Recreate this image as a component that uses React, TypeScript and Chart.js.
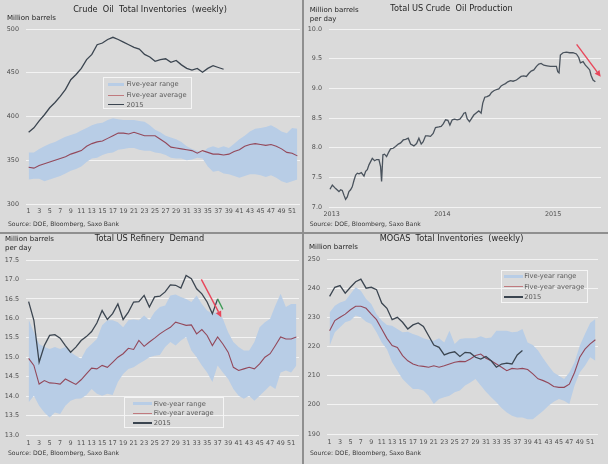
import React, { useEffect, useRef } from "react";
import { Chart, registerables } from "chart.js";
Chart.register(...registerables);

const FONT = "'DejaVu Sans', Verdana, sans-serif";
const BG = "#dadada";
const GRID = "#f3f3f3";
const BAND = "#b8cde6";
const AVG = "#93485a";
const LINE2015 = "#3b4550";
const ARROW = "#e8465a";
const GREEN = "#3c9a55";
const TICK = "#505050";
const TEXT = "#262626";

const seriesNames = ["Five-year range", "Five-year average", "2015"];
const sourceText = "Source: DOE, Bloomberg, Saxo Bank";

const weeks = [1,2,3,4,5,6,7,8,9,10,11,12,13,14,15,16,17,18,19,20,21,22,23,24,25,26,27,28,29,30,31,32,33,34,35,36,37,38,39,40,41,42,43,44,45,46,47,48,49,50,51,52];
const weekTicks = [1,3,5,7,9,11,13,15,17,19,21,23,25,27,29,31,33,35,37,39,41,43,45,47,49,51];

// Crude oil total inventories (million barrels)
const crudeRangeLow = [328,329,329,326,328,330,332,335,338,340,343,348,352,353,356,358,359,362,363,364,364,362,361,361,359,358,356,353,352,352,350,351,353,352,343,337,338,335,334,332,330,332,334,334,333,331,333,330,326,324,326,328];
const crudeRangeHigh = [359,359,363,366,369,371,374,377,379,381,384,387,390,392,393,396,398,397,396,396,396,395,394,390,385,382,378,376,374,371,366,363,361,359,364,366,364,366,364,369,374,378,383,386,387,388,390,387,383,381,387,386];
const crudeAvg = [342,341,344,346,348,350,352,354,357,359,361,366,369,371,372,375,378,381,381,380,382,380,378,378,378,374,370,365,364,363,362,361,358,361,359,357,357,356,357,360,362,366,368,369,368,367,368,366,363,359,358,355];
const crude2015 = [382,387,395,402,410,416,423,431,442,448,455,465,471,482,484,488,490.5,488,485,482,479,477,471,468,463,465,466,462,464,459,455,453,455,450.5,455,458,456,454];
const crudeYTicks = [300, 500, 50];

// Total US crude oil production (million barrels per day)
const prodDates = [2012.985,2013.006,2013.036,2013.066,2013.081,2013.096,2013.111,2013.126,2013.141,2013.156,2013.171,2013.186,2013.202,2013.217,2013.232,2013.247,2013.268,2013.292,2013.307,2013.322,2013.337,2013.367,2013.388,2013.406,2013.427,2013.442,2013.451,2013.463,2013.478,2013.496,2013.517,2013.532,2013.556,2013.577,2013.602,2013.623,2013.647,2013.668,2013.692,2013.713,2013.743,2013.767,2013.788,2013.809,2013.827,2013.848,2013.869,2013.893,2013.917,2013.938,2013.968,2013.989,2014.008,2014.029,2014.050,2014.068,2014.089,2014.110,2014.134,2014.158,2014.179,2014.194,2014.209,2014.224,2014.245,2014.263,2014.284,2014.308,2014.329,2014.350,2014.365,2014.383,2014.404,2014.426,2014.444,2014.465,2014.489,2014.510,2014.531,2014.549,2014.570,2014.591,2014.615,2014.639,2014.669,2014.690,2014.711,2014.735,2014.759,2014.780,2014.802,2014.826,2014.850,2014.871,2014.892,2014.916,2014.946,2014.976,2015.006,2015.030,2015.042,2015.054,2015.066,2015.090,2015.120,2015.150,2015.180,2015.211,2015.232,2015.247,2015.271,2015.292,2015.313,2015.331,2015.343,2015.361,2015.382];
const prodValues = [7.30,7.37,7.31,7.26,7.29,7.28,7.20,7.13,7.17,7.26,7.29,7.34,7.45,7.54,7.57,7.56,7.58,7.52,7.60,7.63,7.71,7.82,7.78,7.80,7.80,7.68,7.43,7.88,7.89,7.85,7.93,7.98,7.99,8.02,8.06,8.08,8.13,8.14,8.16,8.06,8.03,8.07,8.16,8.06,8.10,8.20,8.20,8.19,8.24,8.34,8.35,8.36,8.40,8.47,8.46,8.38,8.47,8.48,8.47,8.48,8.53,8.58,8.59,8.49,8.44,8.49,8.55,8.59,8.62,8.58,8.75,8.85,8.86,8.88,8.93,8.96,8.98,8.99,9.04,9.06,9.08,9.11,9.13,9.12,9.14,9.17,9.20,9.21,9.20,9.25,9.29,9.31,9.37,9.41,9.42,9.39,9.38,9.37,9.37,9.37,9.28,9.26,9.56,9.60,9.61,9.60,9.60,9.58,9.52,9.43,9.45,9.39,9.35,9.31,9.22,9.14,9.11];
const prodYearTicks = [2013, 2014, 2015];
const prodArrow = { x0: 2015.213, y0: 9.74, x1: 2015.43, y1: 9.196 };

// Total US refinery demand (million barrels per day)
const refRangeLow = [13.84,14.01,13.75,13.58,13.45,13.58,13.54,13.75,13.88,13.93,13.94,14.03,14.18,14.06,14.01,14.06,14.03,14.36,14.57,14.70,14.74,14.83,14.91,15.00,15.04,15.06,15.26,15.39,15.30,15.43,15.52,15.17,15.00,14.79,14.61,14.36,14.79,14.61,14.44,14.18,14.01,13.93,14.01,13.88,14.01,14.14,14.27,14.18,14.61,14.66,14.61,14.79];
const refRangeHigh = [15.97,15.64,15.34,15.26,15.21,15.26,15.21,15.26,15.13,15.04,14.96,15.21,15.34,15.47,15.82,15.95,15.95,15.90,15.77,15.95,15.97,15.95,16.07,15.95,16.16,16.29,16.33,16.59,16.61,16.55,16.50,16.42,16.59,16.37,16.20,16.12,16.16,15.99,15.64,15.39,15.26,15.17,15.17,15.39,15.77,15.90,15.99,16.33,16.63,16.29,16.37,16.37];
const refAvg = [14.97,14.79,14.31,14.40,14.34,14.33,14.31,14.44,14.37,14.30,14.42,14.57,14.72,14.70,14.79,14.74,14.87,15.00,15.09,15.23,15.20,15.43,15.28,15.39,15.49,15.60,15.69,15.77,15.90,15.86,15.82,15.83,15.60,15.71,15.56,15.30,15.52,15.34,15.13,14.74,14.66,14.70,14.74,14.70,14.83,15.00,15.09,15.30,15.52,15.47,15.47,15.52];
const ref2015 = [16.43,15.95,14.87,15.30,15.56,15.58,15.49,15.30,15.13,15.26,15.43,15.53,15.66,15.88,16.20,15.97,16.12,16.37,15.97,16.16,16.42,16.43,16.59,16.29,16.55,16.57,16.68,16.86,16.85,16.78,17.10,17.02,16.76,16.63,16.42,16.12,16.50,16.23];
const refArrow = { x0: 33.9, y0: 17.0, x1: 37.7, y1: 16.03 };

// MOGAS total inventories (million barrels)
const mogasRangeLow = [220.3,224.9,226.6,228.3,228.9,230.6,230,228.5,227.7,224.9,221.4,219.1,214.6,211.7,208.9,207.1,205.4,205.4,204.9,203.1,200.3,202,202.6,203.1,204.3,204.9,206.6,207.7,208.9,206.6,204.5,202.6,200.9,198.9,197.4,196.3,195.7,195.7,195.1,195.1,196.5,198,199.7,201.1,202,201.4,200.3,206.6,211.1,213.4,216.3,215.1];
const mogasRangeHigh = [231.7,234,235.1,235.7,238,240.3,239.1,236.3,234.6,231.1,228.9,227.4,227.1,226,224.9,225.1,224.3,223.7,222.8,222.3,222,222.8,221.4,225.4,220.9,222.6,222.8,222.8,222.8,223.5,222.8,223.1,225.4,225.4,225.4,224.9,225.1,226,221.4,220.5,218.6,215.9,213.4,211.1,210,208.9,211.1,214.6,220.3,224.3,228.1,229.4];
const mogasAvg = [225.4,228.9,230,231.1,232.6,233.8,233.8,233.1,231.1,229.2,226,222.8,220.3,219.7,216.9,215.1,214,213.4,213.2,212.9,213.4,212.9,213.4,214,214.6,214.9,214.8,215.7,216.9,217.4,216,215.1,214,212.9,211.7,212.5,212.3,212.5,212.1,210.6,208.9,208.3,207.5,206.3,206,206,207.1,211.1,216.3,219.1,220.9,222.3];
const mogas2015 = [237.2,240.3,240.9,238.3,240.3,242.2,243.1,240,240.3,239.5,234.9,233.1,229.2,230,228.3,226,227.4,228.1,226.9,223.7,220.5,219.7,217.1,217.8,218.2,216.6,218,217.8,216.3,215.7,216.6,215.1,212.9,214,214.3,214,217.1,218.6];

const pts = (xs: number[], ys: number[]) => ys.map((y, i) => ({ x: xs[i], y }));

function textPlugin(cfg: any) {
  return {
    id: "panelText",
    afterDraw(chart: any) {
      const ctx = chart.ctx;
      ctx.save();
      ctx.textBaseline = "middle";
      ctx.fillStyle = TEXT;
      ctx.textAlign = "center";
      ctx.font = `8.2px ${FONT}`;
      ctx.fillText(cfg.title, cfg.titleX, cfg.titleY);
      ctx.textAlign = "left";
      ctx.font = `7px ${FONT}`;
      cfg.unit.forEach((l: string, i: number) => ctx.fillText(l, cfg.unitX, cfg.unitY + i * 9));
      ctx.fillStyle = "#3a3a3a";
      ctx.font = `6.1px ${FONT}`;
      ctx.fillText(sourceText, cfg.sourceX, cfg.sourceY);
      ctx.restore();
    },
  };
}

function arrowPlugin(a: any) {
  return {
    id: "arrow",
    afterDatasetsDraw(chart: any) {
      const ctx = chart.ctx;
      const xs = chart.scales.x, ys = chart.scales.y;
      const x0 = xs.getPixelForValue(a.x0), y0 = ys.getPixelForValue(a.y0);
      const x1 = xs.getPixelForValue(a.x1), y1 = ys.getPixelForValue(a.y1);
      const ang = Math.atan2(y1 - y0, x1 - x0);
      const hl = 6, hw = 3;
      const bx = x1 - hl * Math.cos(ang), by = y1 - hl * Math.sin(ang);
      ctx.save();
      ctx.strokeStyle = ARROW;
      ctx.fillStyle = ARROW;
      ctx.lineWidth = 1.4;
      ctx.beginPath();
      ctx.moveTo(x0, y0);
      ctx.lineTo(bx, by);
      ctx.stroke();
      ctx.beginPath();
      ctx.moveTo(x1, y1);
      ctx.lineTo(bx + hw * Math.sin(ang), by - hw * Math.cos(ang));
      ctx.lineTo(bx - hw * Math.sin(ang), by + hw * Math.cos(ang));
      ctx.closePath();
      ctx.fill();
      ctx.restore();
    },
  };
}

const tickFont = { family: FONT, size: 6.4 };

function weekAxis(pad: number, h: number) {
  return {
    type: "linear",
    min: 0.5,
    max: 52.5,
    afterBuildTicks: (ax: any) => { ax.ticks = weekTicks.map((v) => ({ value: v })); },
    ticks: { autoSkip: false, maxRotation: 0, padding: pad, font: tickFont, color: TICK },
    grid: { display: false, drawTicks: false },
    border: { display: false },
    afterFit: (s: any) => { s.height = h; },
  };
}

function yAxis(min: number, max: number, step: number, w: number, dec: number) {
  return {
    min, max,
    ticks: { stepSize: step, padding: 7, font: tickFont, color: TICK, callback: (v: any) => Number(v).toFixed(dec) },
    grid: { color: GRID, lineWidth: 1, drawTicks: false },
    border: { display: false },
    afterFit: (s: any) => { s.width = w; },
  };
}

function rangeDatasets(low: number[], high: number[], avg: number[], y2015: number[], segGreenFrom?: number) {
  return [
    {
      label: seriesNames[2], data: pts(weeks, y2015), borderColor: LINE2015, borderWidth: 1.3, pointRadius: 0, fill: false, tension: 0,
      segment: segGreenFrom !== undefined ? { borderColor: (c: any) => (c.p0DataIndex >= segGreenFrom ? GREEN : undefined) } : undefined,
    },
    { label: seriesNames[1], data: pts(weeks, avg), borderColor: AVG, borderWidth: 1.1, pointRadius: 0, fill: false, tension: 0 },
    { label: "low", data: pts(weeks, low), borderWidth: 0, borderColor: "rgba(0,0,0,0)", pointRadius: 0, fill: false },
    { label: seriesNames[0], data: pts(weeks, high), borderWidth: 0, borderColor: "rgba(0,0,0,0)", backgroundColor: BAND, pointRadius: 0, fill: "-1" },
  ];
}

const baseOpts = (pad: any) => ({
  animation: false,
  responsive: false,
  layout: { padding: pad },
  plugins: { legend: { display: false }, tooltip: { enabled: false } },
  elements: { line: { capBezierPoints: false } },
});

const panels: any[] = [
  {
    left: 0, top: 0, width: 302, height: 232,
    legend: { x: 103, y: 77, w: 89, h: 32, rows: [6.3, 17, 26.8], sw: [3.5, 20], tx: 22.5 },
    build: () => ({
      type: "line",
      data: { datasets: rangeDatasets(crudeRangeLow, crudeRangeHigh, crudeAvg, crude2015) },
      options: { ...baseOpts({ top: 29, right: 2, left: 0, bottom: 0 }), scales: { x: weekAxis(4, 28), y: yAxis(crudeYTicks[0], crudeYTicks[1], crudeYTicks[2], 26, 0) } },
      plugins: [textPlugin({ title: "Crude  Oil  Total Inventories  (weekly)", titleX: 150, titleY: 9.5, unit: ["Million barrels"], unitX: 7, unitY: 18.3, sourceX: 8, sourceY: 224.7 })],
    }),
  },
  {
    left: 304, top: 0, width: 304, height: 232,
    build: () => ({
      type: "line",
      data: { datasets: [{ label: "Production", data: pts(prodDates, prodValues), borderColor: "#4a535d", borderWidth: 1.3, pointRadius: 0, fill: false, tension: 0 }] },
      options: {
        ...baseOpts({ top: 29, right: 7, left: 0, bottom: 0 }),
        scales: {
          x: {
            type: "linear", min: 2012.976, max: 2015.433,
            afterBuildTicks: (ax: any) => { ax.ticks = prodYearTicks.map((v) => ({ value: v })); },
            ticks: { autoSkip: false, maxRotation: 0, padding: 4, font: tickFont, color: TICK, callback: (v: any) => String(v) },
            grid: { display: false, drawTicks: false }, border: { display: false },
            afterFit: (s: any) => { s.height = 25; },
          },
          y: yAxis(7, 10, 0.5, 25, 1),
        },
      },
      plugins: [
        arrowPlugin(prodArrow),
        textPlugin({ title: "Total US Crude  Oil Production", titleX: 147.5, titleY: 9, unit: ["Million barrels", "per day"], unitX: 5.7, unitY: 10, sourceX: 5.7, sourceY: 224.7 }),
      ],
    }),
  },
  {
    left: 0, top: 234, width: 302, height: 230,
    legend: { x: 124.3, y: 162.7, w: 100, h: 31, rows: [6, 15.5, 25.3], sw: [7.4, 26.4], tx: 28.4 },
    build: () => ({
      type: "line",
      data: { datasets: rangeDatasets(refRangeLow, refRangeHigh, refAvg, ref2015, 36) },
      options: { ...baseOpts({ top: 26, right: 3, left: 0, bottom: 0 }), scales: { x: weekAxis(5, 29), y: yAxis(13, 17.5, 0.5, 26, 1) } },
      plugins: [
        arrowPlugin(refArrow),
        textPlugin({ title: "Total US Refinery  Demand", titleX: 149.5, titleY: 4.8, unit: ["Million barrels", "per day"], unitX: 5, unitY: 4.8, sourceX: 8, sourceY: 219.7 }),
      ],
    }),
  },
  {
    left: 304, top: 234, width: 304, height: 230,
    legend: { x: 196.7, y: 35.7, w: 87, h: 33, rows: [5.6, 16.3, 26.3], sw: [2.6, 21], tx: 22.6 },
    build: () => ({
      type: "line",
      data: { datasets: rangeDatasets(mogasRangeLow, mogasRangeHigh, mogasAvg, mogas2015) },
      options: { ...baseOpts({ top: 25, right: 10, left: 0, bottom: 0 }), scales: { x: weekAxis(5, 30), y: yAxis(190, 250, 10, 23, 0) } },
      plugins: [textPlugin({ title: "MOGAS  Total Inventories  (weekly)", titleX: 147.5, titleY: 4.5, unit: ["Million barrels"], unitX: 5, unitY: 13, sourceX: 6, sourceY: 219.7 })],
    }),
  },
];

function Legend({ x, y, w, h, rows, sw, tx }: any) {
  const swatch = (i: number) => {
    const style: any = { position: "absolute", left: sw[0], width: sw[1] - sw[0] };
    if (i === 0) return { ...style, height: 3.5, top: rows[0] - 1.75, background: BAND };
    if (i === 1) return { ...style, height: 1, top: rows[1] - 0.5, background: "#c07a7e" };
    return { ...style, height: 1.4, top: rows[2] - 0.7, background: LINE2015 };
  };
  return (
    <div style={{ position: "absolute", left: x, top: y, width: w, height: h, boxSizing: "border-box", border: "1px solid #f5f5f5", fontFamily: FONT, fontSize: 6.7, color: "#5a5a5a" }}>
      {seriesNames.map((n, i) => (
        <React.Fragment key={n}>
          <div style={swatch(i)} />
          <div style={{ position: "absolute", left: tx, top: rows[i] - 5, height: 10, lineHeight: "10px", whiteSpace: "nowrap" }}>{n}</div>
        </React.Fragment>
      ))}
    </div>
  );
}

function Panel({ p }: any) {
  const ref = useRef<HTMLCanvasElement>(null);
  useEffect(() => {
    const chart = new Chart(ref.current as HTMLCanvasElement, p.build());
    return () => chart.destroy();
  }, []);
  return (
    <div style={{ position: "absolute", left: p.left, top: p.top, width: p.width, height: p.height }}>
      <canvas ref={ref} width={p.width} height={p.height} style={{ display: "block", width: p.width, height: p.height }} />
      {p.legend && <Legend {...p.legend} />}
    </div>
  );
}

export default function App() {
  return (
    <div style={{ position: "absolute", left: 0, top: 0, width: 608, height: 464, background: BG, overflow: "hidden" }}>
      {panels.map((p, i) => <Panel key={i} p={p} />)}
      <div style={{ position: "absolute", left: 302, top: 0, width: 2, height: 464, background: "#8f8f8f" }} />
      <div style={{ position: "absolute", left: 0, top: 232, width: 608, height: 2, background: "#8f8f8f" }} />
    </div>
  );
}
